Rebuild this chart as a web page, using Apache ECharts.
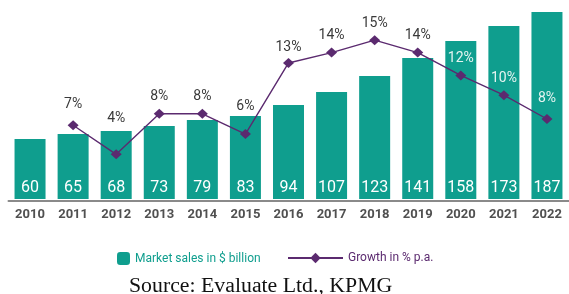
<!DOCTYPE html>
<html>
<head>
<meta charset="utf-8">
<script src="https://cdn.jsdelivr.net/npm/echarts@6/dist/echarts.min.js"></script>
<style>
  html, body { margin: 0; padding: 0; background: #fff; }
  #chart { width: 569px; height: 294px; }
</style>
</head>
<body>
<div id="chart"></div>
<script>
    var years = ['2010','2011','2012','2013','2014','2015','2016','2017','2018','2019','2020','2021','2022'];
    var sales = [60, 65, 68, 73, 79, 83, 94, 107, 123, 141, 158, 173, 187];
    // growth positions, labels as printed
    var growth = [null, 7.1, 4.3, 8.2, 8.2, 6.25, 13.1, 14.1, 15.3, 14.1, 11.9, 10.0, 7.7];
    var growthLabels = ['', '7%', '4%', '8%', '8%', '6%', '13%', '14%', '15%', '14%', '12%', '10%', '8%'];

    var teal = '#0f9e8e';
    var purple = '#5b2a6f';
    var sans = "Roboto, 'Noto Sans', sans-serif";

    // label lift above the marker, a few are pushed up to clear the bars
    var lift = {1: 9, 2: 24, 5: 16, 6: 3, 12: 9};
    var lightLabels = {10: 1, 11: 1, 12: 1};

    var growthData = growth.map(function (v, i) {
        if (v === null) return null;
        return {
            value: v,
            label: {
                distance: lift[i] !== undefined ? lift[i] : 5,
                color: lightLabels[i] ? '#e6f4f1' : '#3a3a3a',
                formatter: growthLabels[i]
            }
        };
    });

    var myChart = echarts.init(document.getElementById('chart'));
    var option = {
        animation: false,
        grid: { left: 8.5, right: 0.5, top: 9, bottom: 93 },
        legend: [
            {
                left: 117, top: 252, padding: 0,
                itemWidth: 13, itemHeight: 13,
                data: ['Market sales in $ billion'],
                textStyle: { color: teal, fontSize: 12, fontFamily: sans }
            },
            {
                left: 287, top: 252, padding: 0,
                itemWidth: 55, itemHeight: 13,
                data: ['Growth in % p.a.'],
                textStyle: { color: purple, fontSize: 12, fontFamily: sans }
            }
        ],
        xAxis: {
            type: 'category',
            data: years,
            axisLine: { onZero: false, lineStyle: { color: '#8a8a8a', width: 2 } },
            axisTick: { show: false },
            axisLabel: { interval: 0, margin: 7, fontSize: 13, fontWeight: 'bold', color: '#505050', fontFamily: sans }
        },
        yAxis: [
            { type: 'value', min: -2, max: 190, show: false, splitLine: { show: false } },
            { type: 'value', min: -0.2, max: 18.3, show: false, splitLine: { show: false } }
        ],
        series: [
            {
                name: 'Market sales in $ billion',
                type: 'bar',
                data: sales,
                barWidth: 31,
                itemStyle: { color: teal },
                label: {
                    show: true,
                    position: 'insideBottom',
                    distance: 3,
                    color: '#ffffff',
                    fontSize: 16,
                    fontFamily: sans
                }
            },
            {
                name: 'Growth in % p.a.',
                type: 'line',
                yAxisIndex: 1,
                data: growthData,
                symbol: 'diamond',
                symbolSize: [11, 10],
                lineStyle: { color: purple, width: 1.4 },
                itemStyle: { color: purple },
                label: {
                    show: true,
                    position: 'top',
                    fontSize: 14,
                    fontFamily: sans
                }
            }
        ],
        graphic: [
            {
                type: 'text',
                x: 129, y: 277,
                scaleX: 1.09,
                style: {
                    text: 'Source: Evaluate Ltd., KPMG',
                    font: "20px 'Liberation Serif', 'Times New Roman', serif",
                    fill: '#111'
                }
            }
        ]
    };
    myChart.setOption(option);
</script>
</body>
</html>
